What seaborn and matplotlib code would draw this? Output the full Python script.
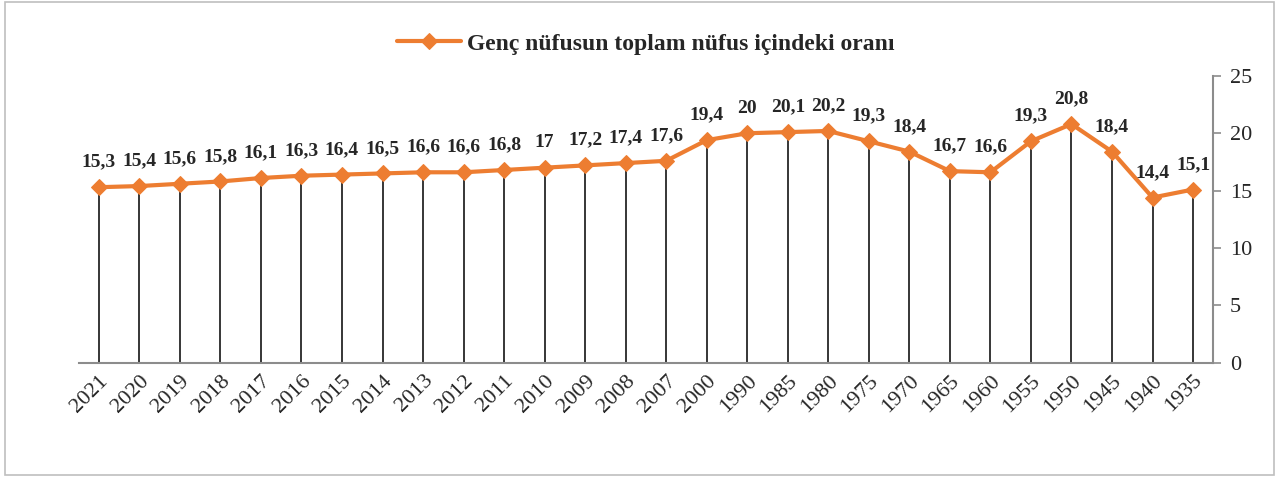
import numpy as np
import pandas as pd
import matplotlib
matplotlib.use('Agg')
import matplotlib.pyplot as plt
import seaborn as sns

years = ['2021', '2020', '2019', '2018', '2017', '2016', '2015', '2014', '2013', '2012',
         '2011', '2010', '2009', '2008', '2007', '2000', '1990', '1985', '1980', '1975',
         '1970', '1965', '1960', '1955', '1950', '1945', '1940', '1935']
values = [15.3, 15.4, 15.6, 15.8, 16.1, 16.3, 16.4, 16.5, 16.6, 16.6,
          16.8, 17.0, 17.2, 17.4, 17.6, 19.4, 20.0, 20.1, 20.2, 19.3,
          18.4, 16.7, 16.6, 19.3, 20.8, 18.4, 14.4, 15.1]
series_name = 'Genç nüfusun toplam nüfus içindeki oranı'

df = pd.DataFrame({'pos': np.arange(len(years)), 'oran': values})

sns.set_style('white')
plt.rcParams['font.family'] = ['Liberation Serif', 'DejaVu Serif']

orange = '#ED7D31'
grey = '#8C8C8C'

fig = plt.figure(figsize=(12.88, 4.8), dpi=100)
ax = fig.add_axes([0.061, 0.244, 0.881, 0.598])

# drop lines to the axis
ax.vlines(df['pos'], 0, df['oran'], color='black', linewidth=1.1, zorder=1)

sns.lineplot(data=df, x='pos', y='oran', ax=ax, color=orange, linewidth=3,
             marker='D', markersize=8.5, markeredgecolor=orange,
             label=series_name, zorder=3)

for p, v in zip(df['pos'], df['oran']):
    txt = f'{v:g}'.replace('.', ',')
    ax.annotate(txt, (p, v), xytext=(0, 12), textcoords='offset points',
                ha='center', va='bottom', fontsize=14, fontweight='bold')

ax.set_xlim(-0.5, len(years) - 0.5)
ax.set_ylim(0, 25)
ax.set_yticks([0, 5, 10, 15, 20, 25])
ax.set_xticks(df['pos'])
ax.set_xticklabels(years, rotation=45, ha='right', rotation_mode='anchor', fontsize=16)
ax.yaxis.tick_right()
ax.tick_params(axis='y', labelsize=16, length=6, width=1.2, color=grey, direction='out', pad=6)
ax.tick_params(axis='x', length=0, pad=6)
ax.set_xlabel('')
ax.set_ylabel('')

for s in ['top', 'left']:
    ax.spines[s].set_visible(False)
ax.spines['right'].set_color(grey)
ax.spines['right'].set_linewidth(1.5)
ax.spines['bottom'].set_color(grey)
ax.spines['bottom'].set_linewidth(1.5)

ax.legend(loc='lower center', bbox_to_anchor=(0.5, 1.0), frameon=False,
          prop={'size': 17, 'weight': 'bold'}, handlelength=2.7, handletextpad=0.25)

# outer chart border
fig.patches.append(plt.Rectangle((0.004, 0.01), 0.985, 0.985, transform=fig.transFigure,
                                 fill=False, edgecolor='#BFBFBF', linewidth=1.2))

fig.savefig('out.png', dpi=100)
